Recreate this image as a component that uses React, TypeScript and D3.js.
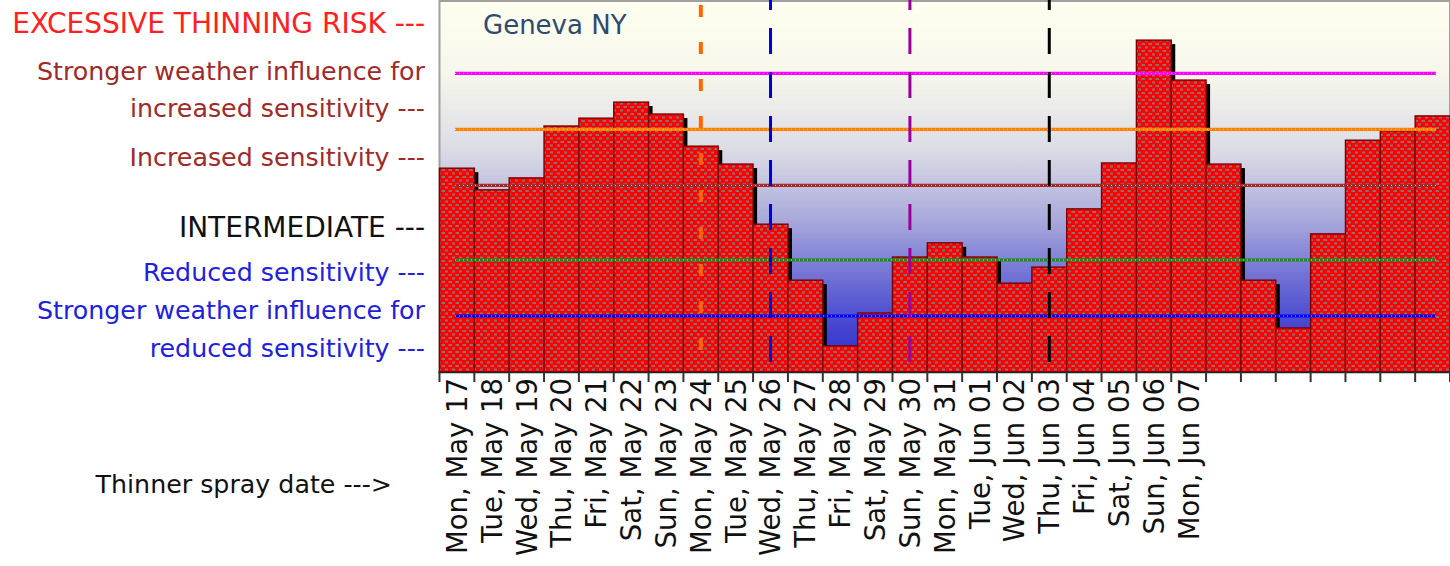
import * as d3 from 'd3'
import { useEffect, useRef } from 'react'

// spray dates (last bars have no label)
const dates = [
  'Mon, May 17', 'Tue, May 18', 'Wed, May 19', 'Thu, May 20', 'Fri, May 21',
  'Sat, May 22', 'Sun, May 23', 'Mon, May 24', 'Tue, May 25', 'Wed, May 26',
  'Thu, May 27', 'Fri, May 28', 'Sat, May 29', 'Sun, May 30', 'Mon, May 31',
  'Tue, Jun 01', 'Wed, Jun 02', 'Thu, Jun 03', 'Fri, Jun 04', 'Sat, Jun 05',
  'Sun, Jun 06', 'Mon, Jun 07', '', '', '', '', '', '', ''
]

// thinning sensitivity index
const sensitivity = [
  54.6, 48.8, 52.0, 65.9, 68.0, 72.3, 69.1, 60.5, 55.7, 39.6,
  24.6, 7.0, 15.8, 30.8, 34.6, 30.8, 23.8, 28.1, 43.7, 56.0,
  88.9, 78.2, 55.7, 24.6, 11.8, 37.0, 62.1, 64.6, 68.6
]

const thresholdValues = [80, 65, 50, 30, 15]
const thresholdColors = ['#ff00ff', '#ff7f00', '#a02a2a', '#1e8a1e', '#0000ff']

const markerDates = ['Mon, May 24', 'Wed, May 26', 'Sun, May 30', 'Thu, Jun 03']
const markerColors = ['#ff6600', '#0000dd', '#990099', '#000000']

const sideLabels = [
  'EXCESSIVE THINNING RISK ---',
  'Stronger weather influence for',
  'increased sensitivity ---',
  'Increased sensitivity ---',
  'INTERMEDIATE ---',
  'Reduced sensitivity ---',
  'Stronger weather influence for',
  'reduced sensitivity ---'
]
const sideColors = ['#ff2020', '#a02a2a', '#a02a2a', '#a02a2a', '#111111', '#2020e0', '#2020e0', '#2020e0']

export default function App() {
  const svgRef = useRef(null) as any

  useEffect(() => {
    const W = 1450
    const H = 566
    const left = 439.5
    const bottom = 372
    const font = '"DejaVu Sans", Verdana, sans-serif'

    const svg = d3.select(svgRef.current)
      .attr('width', W)
      .attr('height', H)
    svg.selectAll('*').remove()

    const x = d3.scaleBand<number>()
      .domain(d3.range(dates.length))
      .range([left, W])
      .padding(0)
    const y = d3.scaleLinear()
      .domain([0, 100])
      .range([bottom, -1.3])
    const bw = x.bandwidth()

    const defs = svg.append('defs')
    const grad = defs.append('linearGradient')
      .attr('id', 'bg').attr('x1', 0).attr('y1', 0).attr('x2', 0).attr('y2', 1)
    const stops: [number, string][] = [
      [0, '#fffff0'], [0.2, '#f6f6ec'], [0.4, '#dcdce6'],
      [0.58, '#acacdc'], [0.74, '#7272d6'], [0.88, '#4444d0'], [1, '#2a2acc']
    ]
    stops.forEach(s => grad.append('stop').attr('offset', s[0]).attr('stop-color', s[1]))

    const pat = defs.append('pattern')
      .attr('id', 'dots').attr('patternUnits', 'userSpaceOnUse')
      .attr('width', 7).attr('height', 7)
    pat.append('rect').attr('width', 7).attr('height', 7).attr('fill', '#ff0000')
    pat.append('rect').attr('x', 0.5).attr('y', 1).attr('width', 3.5).attr('height', 2).attr('fill', '#8c7070')
    pat.append('rect').attr('x', 4).attr('y', 4.5).attr('width', 3.5).attr('height', 2).attr('fill', '#8c7070')

    // plot background and frame
    svg.append('rect')
      .attr('x', left).attr('y', 1).attr('width', W - left).attr('height', bottom - 1)
      .attr('fill', 'url(#bg)')
      .attr('stroke', '#a0a0a0').attr('stroke-width', 2)

    // bar shadows then bars
    svg.append('g').selectAll('rect')
      .data(sensitivity)
      .enter().append('rect')
      .attr('x', (_d, i) => (x(i) as number) + 4)
      .attr('y', d => y(d) + 4)
      .attr('width', bw)
      .attr('height', d => Math.max(0, bottom - y(d) - 4))
      .attr('fill', '#000')

    svg.append('g').selectAll('rect')
      .data(sensitivity)
      .enter().append('rect')
      .attr('x', (_d, i) => x(i) as number)
      .attr('y', d => y(d))
      .attr('width', bw)
      .attr('height', d => bottom - y(d))
      .attr('fill', 'url(#dots)')
      .attr('stroke', '#7a0000')
      .attr('stroke-width', 1.4)

    // threshold lines
    const th = svg.append('g')
    thresholdValues.forEach((v, i) => {
      th.append('line')
        .attr('x1', 455).attr('x2', 1436).attr('y1', y(v)).attr('y2', y(v))
        .attr('stroke', thresholdColors[i]).attr('stroke-width', 3.2)
      th.append('line')
        .attr('x1', 455).attr('x2', 1436).attr('y1', y(v)).attr('y2', y(v))
        .attr('stroke', '#ffffff').attr('stroke-width', 1)
        .attr('stroke-dasharray', '1 3').attr('opacity', 0.75)
    })

    // spray date markers
    const mk = svg.append('g')
    markerDates.forEach((d, i) => {
      const cx = (x(dates.indexOf(d)) as number) + bw / 2
      const first = i === 0
      mk.append('line')
        .attr('x1', cx).attr('x2', cx)
        .attr('y1', first ? 5 : 0).attr('y2', first ? bottom : 362)
        .attr('stroke', markerColors[i])
        .attr('stroke-width', first ? 4 : 3)
        .attr('stroke-dasharray', first ? '12 25' : '26 18')
        .attr('stroke-dashoffset', first ? 0 : 16)
    })

    // x axis
    svg.append('line')
      .attr('x1', left - 1).attr('x2', W).attr('y1', bottom + 0.5).attr('y2', bottom + 0.5)
      .attr('stroke', '#222').attr('stroke-width', 1.5)
    svg.append('g').selectAll('line')
      .data(d3.range(dates.length + 1))
      .enter().append('line')
      .attr('x1', i => left + i * bw).attr('x2', i => left + i * bw)
      .attr('y1', bottom).attr('y2', bottom + 10)
      .attr('stroke', '#333').attr('stroke-width', 2)

    svg.append('g').selectAll('text')
      .data(dates)
      .enter().append('text')
      .attr('transform', (_d, i) => `translate(${(x(i) as number) + bw / 2},${bottom + 6}) rotate(-90)`)
      .attr('dy', '0.36em')
      .attr('text-anchor', 'end')
      .style('font-family', font)
      .style('font-size', '27.5px')
      .attr('fill', '#111')
      .text(d => d)

    // side labels (all-caps lines run wider in the original font)
    const sideY = [33, 80, 117, 166, 237, 281, 319, 357]
    svg.append('g').selectAll('text')
      .data(sideLabels)
      .enter().append('text')
      .attr('x', 425)
      .attr('y', (_d, i) => sideY[i])
      .attr('text-anchor', 'end')
      .style('font-family', font)
      .style('font-size', (_d, i) => (i === 0 || i === 4 ? '28px' : '25.3px'))
      .attr('fill', (_d, i) => sideColors[i])
      .text(d => d)

    svg.append('text')
      .attr('x', 392).attr('y', 493)
      .attr('text-anchor', 'end')
      .style('font-family', font)
      .style('font-size', '25.3px')
      .attr('fill', '#111')
      .text('Thinner spray date --->')

    svg.append('text')
      .attr('x', 483).attr('y', 34)
      .style('font-family', font)
      .style('font-size', '26px')
      .attr('fill', '#2e4a6e')
      .text('Geneva NY')
  }, [])

  return (
    <div style={{ position: 'absolute', left: 0, top: 0 }}>
      <svg ref={svgRef} style={{ display: 'block' }} />
    </div>
  )
}
